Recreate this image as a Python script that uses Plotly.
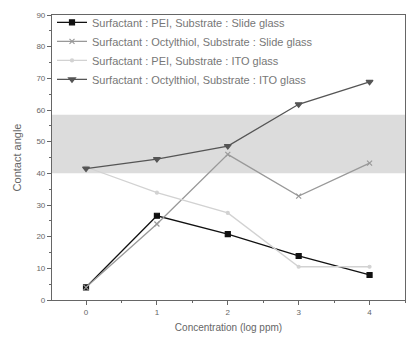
import plotly.graph_objects as go

conc = [0, 1, 2, 3, 4]
pei_slide = [4, 26.6, 20.8, 13.9, 7.9]
oct_slide = [4, 24, 46, 32.8, 43.2]
pei_ito = [42, 33.9, 27.5, 10.5, 10.5]
oct_ito = [41.5, 44.5, 48.6, 61.8, 68.9]
names = [
    "Surfactant : PEI, Substrate : Slide glass",
    "Surfactant : Octylthiol, Substrate : Slide glass",
    "Surfactant : PEI, Substrate : ITO glass",
    "Surfactant : Octylthiol, Substrate : ITO glass",
]
band = [40, 58.5]

fig = go.Figure()
series = [
    (pei_slide, "#111111", "square", 5),
    (oct_slide, "#999999", "x-thin-open", 5),
    (pei_ito, "#d2d2d2", "circle", 3),
    (oct_ito, "#555555", "triangle-down", 6),
]
for (vals, col, sym, sz), nm in zip(series, names):
    fig.add_trace(go.Scatter(
        x=conc, y=vals, name=nm, mode="lines+markers",
        line=dict(color=col, width=1.3),
        marker=dict(symbol=sym, size=sz, color=col, line=dict(color=col, width=1.2)),
    ))

fig.add_shape(type="rect", xref="paper", x0=0, x1=1, yref="y", y0=band[0], y1=band[1],
              fillcolor="#dcdcdc", line=dict(width=0), layer="below")

axcommon = dict(showgrid=False, zeroline=False, showline=True, linecolor="#666666",
                linewidth=1.2, mirror=True, ticks="outside", ticklen=4, tickcolor="#666666",
                tickfont=dict(family="Arial", size=8, color="#666666"))
fig.update_layout(
    width=407, height=345,
    margin=dict(l=52, r=2, t=15, b=45),
    plot_bgcolor="white", paper_bgcolor="white",
    xaxis=dict(range=[-0.48, 4.5], tickvals=conc,
               minor=dict(ticks="outside", ticklen=2, dtick=0.5, tickcolor="#666666"),
               title=dict(text="Concentration (log ppm)", font=dict(family="Arial", size=10, color="#666666"), standoff=8),
               **axcommon),
    yaxis=dict(range=[0, 90], dtick=10,
               minor=dict(ticks="outside", ticklen=2, dtick=5, tickcolor="#666666"),
               title=dict(text="Contact angle", font=dict(family="Arial", size=11, color="#666666"), standoff=12),
               **axcommon),
    legend=dict(x=0.0, y=1.025, xanchor="left", yanchor="top", bgcolor="rgba(0,0,0,0)",
                font=dict(family="Arial", size=11, color="#777777"), tracegroupgap=0,
                itemwidth=30),
    showlegend=True,
)
fig.write_html("out.html")
